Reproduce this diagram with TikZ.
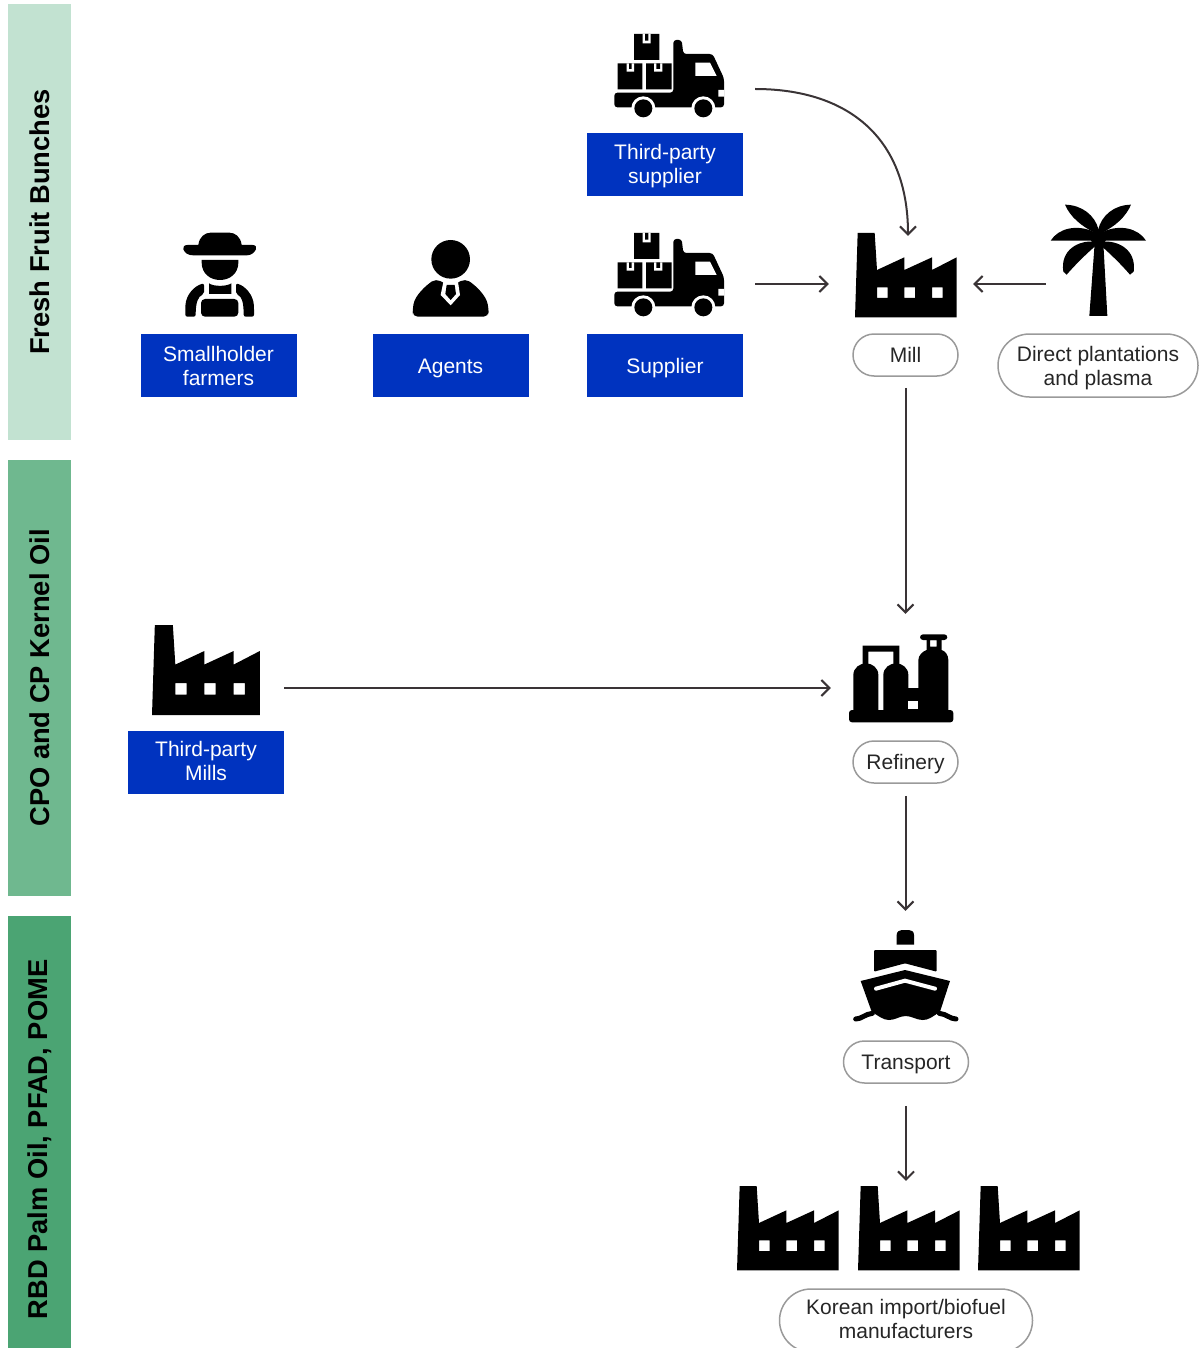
\documentclass[tikz,border=0pt]{standalone}
\usepackage{fontspec}
\setmainfont{Liberation Sans}
\usetikzlibrary{arrows.meta,shapes.misc}
\definecolor{bandlight}{HTML}{C2E2D1}
\definecolor{bandmid}{HTML}{6FB88F}
\definecolor{banddark}{HTML}{4BA473}
\definecolor{boxblue}{HTML}{0033BF}
\definecolor{pillgray}{HTML}{9A9A9A}
\definecolor{flowgray}{HTML}{3A3436}
\tikzset{
	band/.style={rectangle, rotate=90, minimum width=436pt, minimum height=63pt, inner sep=0pt, text=black, font=\fontsize{27.3}{30}\selectfont\bfseries},
	oneline/.style={text height=15pt, text depth=0pt},
	twoline/.style={text height=39pt, text depth=0pt},
	bluebox/.style={rectangle, fill=boxblue, text=white, minimum width=156pt, minimum height=63pt, inner sep=0pt, align=center, oneline, font=\fontsize{21}{24}\selectfont},
	pill/.style={rounded rectangle, draw=pillgray, line width=1.5pt, text=black!85, inner sep=0pt, minimum height=#1, align=center, oneline, font=\fontsize{21}{24}\selectfont},
	iconbox/.style={rectangle, inner sep=0pt},
	flow/.style={draw=flowgray, line width=2pt, -{Straight Barb[length=8pt, width=16pt]}},
	px/.style={scale=1/3},
	factory/.pic={
		\fill[even odd rule] (8,0) -- (59,0) -- (66,111) -- (148,73) -- (148,111) -- (231,73) -- (231,111) -- (305,73) -- (305,253) -- (0,253) -- cycle
			(66,163) rectangle (98,195) (148,163) rectangle (180,195) (231,163) rectangle (263,195);
	},
	truck/.pic={
		\fill (162,42) rectangle (238,120) (113,130) rectangle (187,208) (198,130) rectangle (275,208);
		\fill[white] (188,42) rectangle (212,70) (140,130) rectangle (162,155) (222,130) rectangle (247,155);
		\fill (195,42) rectangle (205,62) (147,130) rectangle (155,147) (229,130) rectangle (240,147);
		\fill[rounded corners=3pt] (103,218) -- (280,218) -- (280,60) -- (305,60) -- (310,102) -- (398,102) -- (432,175) -- (432,262) -- (103,262) -- cycle;
		\fill[white] (346,128) -- (390,128) -- (410,168) -- (346,168) -- cycle (415,210) rectangle (433,230);
		\fill[white] (190,265) circle[radius=36] (370,265) circle[radius=36];
		\fill (190,265) circle[radius=27] (370,265) circle[radius=27];
	},
	farmer/.pic={
		\fill (172,75) -- (205,75) .. controls (208,50) and (225,38) .. (242,38) -- (298,38) .. controls (315,38) and (332,50) .. (335,75) -- (368,75) .. controls (378,75) and (380,82) .. (378,88) .. controls (372,100) and (362,106) .. (350,106) -- (190,106) .. controls (175,106) and (165,100) .. (160,88) .. controls (158,82) and (162,75) .. (172,75) -- cycle;
		\fill (215,120) -- (325,120) -- (325,128) .. controls (325,160) and (300,180) .. (270,180) .. controls (240,180) and (215,160) .. (215,128) -- cycle;
		\fill[rounded corners=2pt] (166,290) -- (166,262) .. controls (168,225) and (192,198) .. (222,190) -- (222,222) .. controls (205,230) and (197,245) .. (197,290) -- cycle;
		\fill[rounded corners=2pt] (372,290) -- (372,262) .. controls (370,225) and (346,198) .. (318,190) -- (318,222) .. controls (335,230) and (341,245) .. (341,290) -- cycle;
		\fill (237,190) .. controls (250,200) and (290,200) .. (304,190) -- (304,222) -- (237,222) -- cycle;
		\fill[rounded corners=4pt] (213,290) -- (213,237) -- (325,237) -- (325,290) -- cycle;
	},
	agent/.pic={
		\fill (962,118) circle[radius=58];
		\fill[rounded corners=5pt] (848,290) -- (848,268) .. controls (855,225) and (890,195) .. (918,176) -- (962,200) -- (1005,176) .. controls (1035,195) and (1068,225) .. (1076,268) -- (1076,290) -- cycle;
		\fill[white] (940,186) -- (984,186) -- (990,225) -- (962,256) -- (932,225) -- cycle;
		\fill (950,195) -- (974,195) -- (978,222) -- (962,240) -- (946,222) -- cycle;
	},
	palm/.pic={
		\fill (748,348) -- (802,348) -- (790,130) -- (764,130) -- cycle;
		\fill (675,14) .. controls (725,15) and (765,45) .. (776,90) -- (768,100) .. controls (725,80) and (690,50) .. (675,14) -- cycle;
		\fill (873,14) .. controls (823,15) and (785,45) .. (774,90) -- (782,100) .. controls (825,80) and (858,50) .. (873,14) -- cycle;
		\fill (632,122) .. controls (655,85) and (710,72) .. (760,95) -- (775,122) -- cycle;
		\fill (918,122) .. controls (895,85) and (840,72) .. (790,95) -- (775,122) -- cycle;
		\fill (765,125) .. controls (715,120) and (660,150) .. (670,215) -- (680,224) .. controls (705,195) and (735,165) .. (775,130) -- cycle;
		\fill (785,125) .. controls (835,120) and (890,150) .. (881,215) -- (870,224) .. controls (845,195) and (815,165) .. (775,130) -- cycle;
		\fill (775,112) circle[radius=24];
	},
	refinery/.pic={
		\fill[rounded corners=3pt] (27,255) rectangle (340,292);
		\fill (40,260) -- (40,150) .. controls (40,128) and (60,115) .. (78,115) .. controls (96,115) and (115,128) .. (115,150) -- (115,260) -- cycle;
		\fill (130,260) -- (130,150) .. controls (130,128) and (150,115) .. (168,115) .. controls (186,115) and (205,128) .. (205,150) -- (205,260) -- cycle;
		\fill (235,260) -- (235,105) .. controls (235,90) and (250,78) .. (260,75) -- (305,75) .. controls (315,78) and (325,90) .. (325,105) -- (325,260) -- cycle;
		\fill (68,125) -- (68,62) -- (178,62) -- (178,125) -- (160,125) -- (160,80) -- (85,80) -- (85,125) -- cycle;
		\fill[even odd rule] (260,45) rectangle (305,78) (270,45) rectangle (290,65);
		\fill[rounded corners=3pt] (240,28) rectangle (322,45);
		\fill (200,190) rectangle (240,260);
		\fill[white] (205,228) rectangle (235,253);
	},
	ship/.pic={
		\fill (170,74) -- (170,45) .. controls (170,35) and (178,30) .. (185,30) -- (207,30) .. controls (215,30) and (222,35) .. (222,45) -- (222,74) -- cycle;
		\fill[rounded corners=1pt] (102,90) -- (290,90) -- (290,155) -- (195,130) -- (102,155) -- cycle;
		\fill (62,183) -- (195,150) -- (330,183) -- (300,275) .. controls (275,292) and (265,300) .. (248,300) .. controls (230,300) and (215,288) .. (197,288) .. controls (180,288) and (165,300) .. (147,300) .. controls (130,300) and (115,288) .. (95,275) -- cycle;
		\draw[white, line width=4pt, line cap=round, line join=round] (108,206) -- (195,182) -- (285,206);
		\draw[line width=5pt, line cap=round] (47,297) .. controls (65,297) and (75,282) .. (97,280);
		\draw[line width=5pt, line cap=round] (348,297) .. controls (330,297) and (320,282) .. (298,280);
	}
}
\begin{document}
\begin{tikzpicture}[x=1pt, y=-1pt]
	\clip (0,0) rectangle (1199,1348);
	\node[band, fill=bandlight] (freshBand) at (39.5,222) {Fresh Fruit Bunches};
	\node[band, fill=bandmid] (cpoBand) at (39.5,678) {CPO and CP Kernel Oil};
	\node[band, fill=banddark, minimum width=447pt] (rbdBand) at (39.5,1139.5) {RBD Palm Oil, PFAD, POME};

	\node[iconbox, minimum width=110pt, minimum height=84pt] (truckTopIcon) at (669,76) {};
	\node[iconbox, minimum width=110pt, minimum height=84pt] (truckIcon) at (669,275) {};
	\node[iconbox, minimum width=74pt, minimum height=84pt] (farmerIcon) at (220,275) {};
	\node[iconbox, minimum width=76pt, minimum height=78pt] (agentIcon) at (451,278) {};
	\node[iconbox, minimum width=102pt, minimum height=84pt] (millIcon) at (906,275) {};
	\node[iconbox, minimum width=97pt, minimum height=112pt] (palmIcon) at (1098.5,261) {};
	\node[iconbox, minimum width=108pt, minimum height=90pt] (thirdMillIcon) at (206,670) {};
	\node[iconbox, minimum width=105pt, minimum height=89pt] (refineryIcon) at (901.5,678.5) {};
	\node[iconbox, minimum width=102pt, minimum height=92pt] (shipIcon) at (905.5,977) {};
	\node[iconbox, minimum width=102pt, minimum height=84pt] (buyerIconA) at (788,1228) {};
	\node[iconbox, minimum width=102pt, minimum height=84pt] (buyerIconB) at (909,1228) {};
	\node[iconbox, minimum width=102pt, minimum height=84pt] (buyerIconC) at (1029,1228) {};

	\pic[px] at (580,20) {truck};
	\pic[px] at (580,219) {truck};
	\pic[px] at (130,220) {farmer};
	\pic[px] at (130,220) {agent};
	\pic[px] at (855,233) {factory};
	\pic[px] at (840,200) {palm};
	\pic[px, xscale=1.06, yscale=1.07] at (152,625) {factory};
	\pic[px] at (840,625) {refinery};
	\pic[px] at (840,920) {ship};
	\pic[px] at (737,1186) {factory};
	\pic[px] at (858,1186) {factory};
	\pic[px] at (978,1186) {factory};

	\node[bluebox, twoline] (thirdSupplier) at (665,164.5) {Third-party\\supplier};
	\node[bluebox, twoline] (farmers) at (218.5,365.5) {Smallholder\\farmers};
	\node[bluebox] (agents) at (450.5,365.5) {Agents};
	\node[bluebox] (supplier) at (665,365.5) {Supplier};
	\node[bluebox, twoline, text height=36pt] (thirdMills) at (206,762.5) {Third-party\\Mills};

	\node[pill=42pt, minimum width=105pt] (millPill) at (905.5,355) {Mill};
	\node[pill=63pt, minimum width=200pt, twoline] (plantPill) at (1098,365.5) {Direct plantations\\and plasma};
	\node[pill=42pt, minimum width=105pt] (refineryPill) at (905.5,762) {Refinery};
	\node[pill=42pt, minimum width=125pt] (transportPill) at (906,1062) {Transport};
	\node[pill=63pt, minimum width=253pt, twoline, text height=35pt] (buyerPill) at (906,1320.5) {Korean import/biofuel\\manufacturers};

	\draw[flow] ([xshift=31pt, yshift=-13pt]truckTopIcon.east) .. controls (845,89) and (908,135) .. ([xshift=2pt, yshift=-3pt]millIcon.north);
	\draw[flow, shorten <=31pt, shorten >=26pt] ([yshift=-9pt]truckIcon.east) -- ([yshift=-9pt]millIcon.west);
	\draw[flow, shorten <=4pt, shorten >=16pt] ([yshift=-23pt]palmIcon.west) -- ([yshift=-9pt]millIcon.east);
	\draw[flow, shorten <=11pt, shorten >=20pt] (millPill.south) -- (millPill.south |- refineryIcon.north);
	\draw[flow, shorten <=24pt, shorten >=18pt] ([yshift=-18pt]thirdMillIcon.east) -- ([yshift=-9.5pt]refineryIcon.west);
	\draw[flow, shorten <=12pt, shorten >=20pt] (refineryPill.south) -- (shipIcon.north);
	\draw[flow, shorten <=22pt, shorten >=5pt] (transportPill.south) -- (transportPill.south |- buyerIconB.north);
\end{tikzpicture}
\end{document}
